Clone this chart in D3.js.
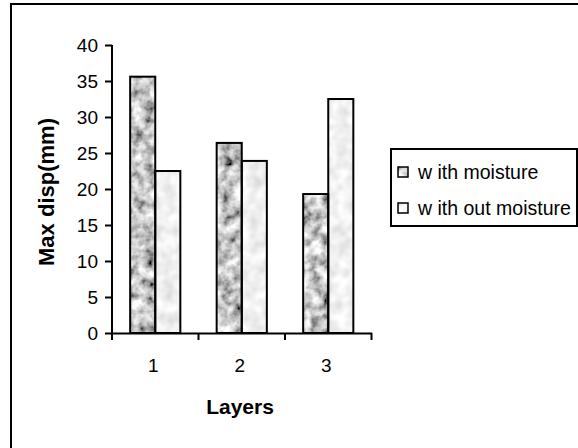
<!DOCTYPE html>
<html>
<head>
<meta charset="utf-8">
<script src="https://cdnjs.cloudflare.com/ajax/libs/d3/7.8.5/d3.min.js"></script>
<style>
  body { margin:0; background:#fff; }
  text { font-family: "Liberation Sans", Arial, sans-serif; fill:#000; }
</style>
</head>
<body>
<svg id="svg1"></svg>
<script>
var W = 578;
var H = 448;

var layers = ["1", "2", "3"];
var seriesNames = ["w ith moisture", "w ith out moisture"];
var withMoisture = [35.6, 26.4, 19.3];
var withoutMoisture = [22.5, 23.9, 32.5];
var yTicks = [0, 5, 10, 15, 20, 25, 30, 35, 40];

window.onload = function(){
  var svg1 = d3.select('#svg1').attr('width', W).attr('height', H);
  makeTextures(svg1);

  // outer chart frame (runs off the right and bottom of the picture)
  svg1.append('rect')
    .attr('x', 11).attr('y', 4).attr('width', 600).attr('height', 500)
    .attr('fill', 'none').attr('stroke', '#000').attr('stroke-width', 2);

  var mydata = [];
  layers.forEach(function(l, i){
    mydata.push({layer: l, key: 0, value: withMoisture[i]});
    mydata.push({layer: l, key: 1, value: withoutMoisture[i]});
  });

  var y = d3.scaleLinear().domain([0, 40]).range([333, 45]);
  var xAxisScale = d3.scaleBand().domain(layers).range([112, 371.5]);
  var x0 = d3.scaleBand().domain(layers).range([112, 371.5])
    .paddingInner(0.42).paddingOuter(0.21);
  var x1 = d3.scaleBand().domain([0, 1]).range([0, x0.bandwidth()]);

  render(svg1, mydata, x0, x1, y);

  // y axis
  var yAxis = svg1.append('g').attr('transform', 'translate(112,0)')
    .call(d3.axisLeft(y).tickValues(yTicks).tickSize(7).tickPadding(7));
  yAxis.select('.domain').attr('stroke', '#000').attr('stroke-width', 2)
    .attr('d', 'M0,' + y(40) + 'V' + y(0));
  yAxis.selectAll('.tick line').attr('stroke', '#000').attr('stroke-width', 2);
  yAxis.selectAll('text').style('font-size', '19px').attr('font-family', null);

  // x axis: labels centred on categories, ticks between them
  var xAxis = svg1.append('g').attr('transform', 'translate(0,333)')
    .call(d3.axisBottom(xAxisScale).tickSize(0).tickPadding(26));
  xAxis.select('.domain').attr('stroke', '#000').attr('stroke-width', 2);
  xAxis.selectAll('text').style('font-size', '19px').attr('font-family', null)
    .attr('dx', -2);
  var bounds = layers.map(function(l){ return xAxisScale(l); });
  bounds.push(xAxisScale.range()[1]);
  xAxis.selectAll('.sep').data(bounds).enter().append('line')
    .attr('x1', function(d){ return d; }).attr('x2', function(d){ return d; })
    .attr('y1', 0).attr('y2', 7)
    .attr('stroke', '#000').attr('stroke-width', 2);

  // axis titles
  svg1.append('text')
    .attr('transform', 'translate(54,192) rotate(-90)')
    .attr('text-anchor', 'middle')
    .style('font-size', '22px').style('font-weight', 'bold')
    .text('Max disp(mm)');
  svg1.append('text')
    .attr('x', 240).attr('y', 414)
    .attr('text-anchor', 'middle')
    .style('font-size', '21px').style('font-weight', 'bold')
    .text('Layers');

  legend(svg1);
};

function makeTextures(svg1){
  var defs = svg1.append('defs');
  addStone(defs, 'darkStone', 0.09, 1.7, -0.26, 3);
  addStone(defs, 'lightStone', 0.08, 0.5, 0.63, 2);
}

function addStone(defs, id, freq, gain, bias, oct){
  var f = defs.append('filter').attr('id', id)
    .attr('x', 0).attr('y', 0).attr('width', 1).attr('height', 1);
  f.append('feTurbulence').attr('type', 'fractalNoise')
    .attr('baseFrequency', freq).attr('numOctaves', oct).attr('seed', 4)
    .attr('result', 'noise');
  var row = gain + ' 0 0 0 ' + bias;
  f.append('feColorMatrix').attr('in', 'noise').attr('type', 'matrix')
    .attr('values', row + ' ' + row + ' ' + row + ' 0 0 0 0 1')
    .attr('result', 'gray');
  f.append('feComposite').attr('in', 'gray').attr('in2', 'SourceGraphic')
    .attr('operator', 'in');
}

function associateFilter(k){
  return k === 0 ? 'url(#darkStone)' : 'url(#lightStone)';
}

function render(svg1, mydata, x0, x1, y){
  var g = svg1.append('g');
  g.selectAll('rect.fillbar')
    .data(mydata)
    .enter()
    .append('rect')
    .attr('class', 'fillbar')
    .attr('x', function(d){ return x0(d.layer) + x1(d.key); })
    .attr('y', function(d){ return y(d.value); })
    .attr('width', x1.bandwidth())
    .attr('height', function(d){ return y(0) - y(d.value); })
    .attr('fill', '#000')
    .attr('filter', function(d){ return associateFilter(d.key); });
  g.selectAll('rect.outline')
    .data(mydata)
    .enter()
    .append('rect')
    .attr('class', 'outline')
    .attr('x', function(d){ return x0(d.layer) + x1(d.key); })
    .attr('y', function(d){ return y(d.value); })
    .attr('width', x1.bandwidth())
    .attr('height', function(d){ return y(0) - y(d.value); })
    .attr('fill', 'none')
    .attr('stroke', '#000').attr('stroke-width', 2);
}

function legend(svg1){
  var lg = svg1.append('g');
  lg.append('rect')
    .attr('x', 391).attr('y', 149).attr('width', 186).attr('height', 77)
    .attr('fill', '#fff').attr('stroke', '#000').attr('stroke-width', 2);
  var items = lg.selectAll('g.item').data(seriesNames).enter().append('g')
    .attr('transform', function(d, i){ return 'translate(398,' + (172 + i*36) + ')'; });
  items.append('rect')
    .attr('x', 0).attr('y', -5).attr('width', 10).attr('height', 10)
    .attr('fill', '#000')
    .attr('filter', function(d, i){ return associateFilter(i); });
  items.append('rect')
    .attr('x', 0).attr('y', -5).attr('width', 10).attr('height', 10)
    .attr('fill', 'none').attr('stroke', '#000').attr('stroke-width', 1.5);
  items.append('text')
    .attr('x', 20).attr('y', 7)
    .style('font-size', '19.5px')
    .text(function(d){ return d; });
}
</script>
</body>
</html>
